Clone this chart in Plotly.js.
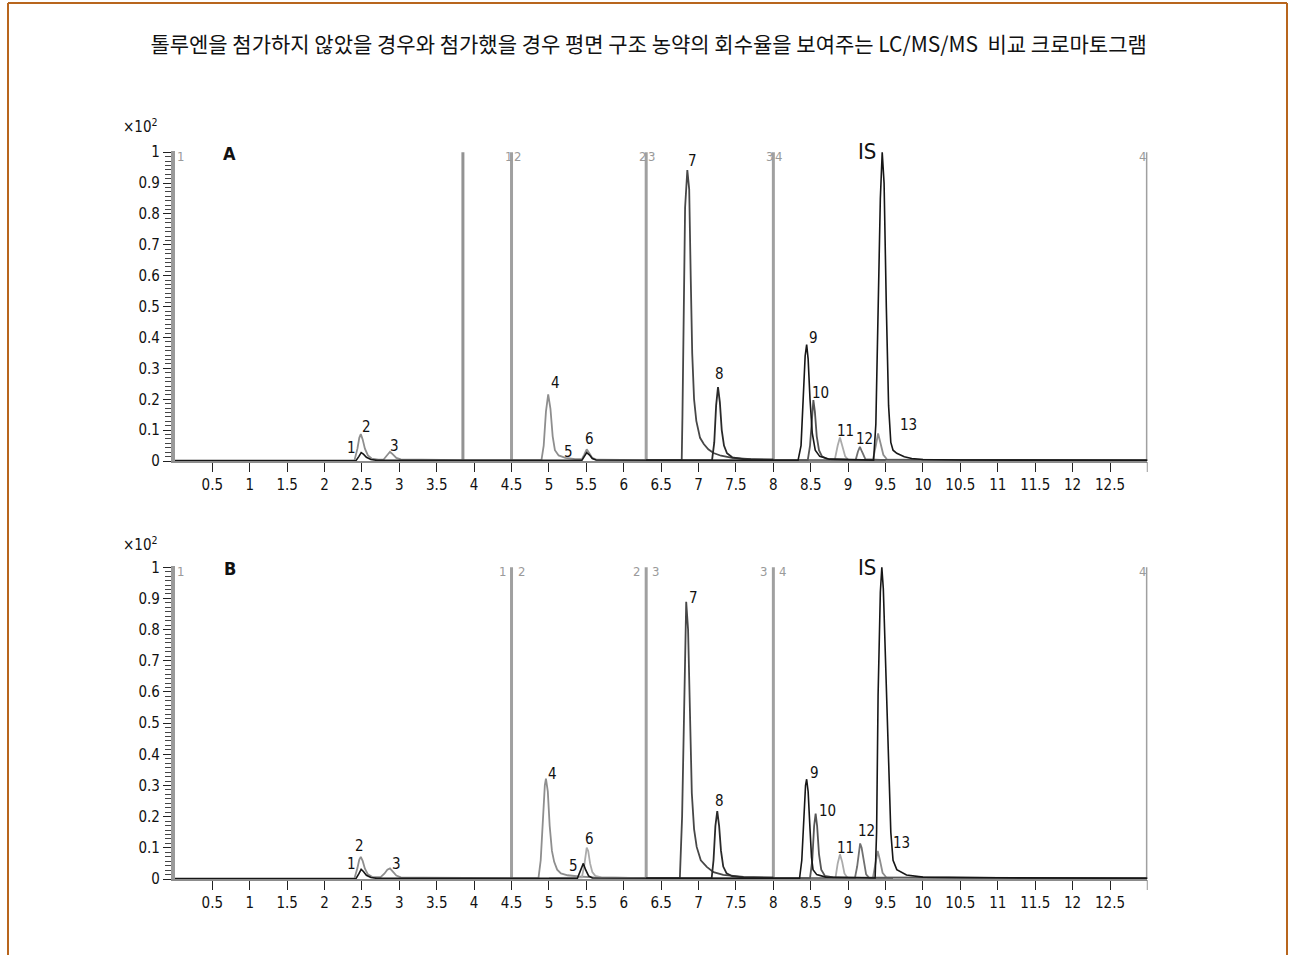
<!DOCTYPE html>
<html>
<head>
<meta charset="utf-8">
<script src="https://cdn.plot.ly/plotly-3.0.1.min.js"></script>
<style>
html,body{margin:0;padding:0;background:#fff;}
#chart{width:1292px;height:955px;}
</style>
</head>
<body>
<div id="chart"></div>
<script>
// ---------- DATA (retention time [min], abundance [x10^2]) ----------
const titleText = "톨루엔을 첨가하지 않았을 경우와 첨가했을 경우 평면 구조 농약의 회수율을 보여주는 LC/MS/MS  비교 크로마토그램";
const xTickVals = [0.5,1,1.5,2,2.5,3,3.5,4,4.5,5,5.5,6,6.5,7,7.5,8,8.5,9,9.5,10,10.5,11,11.5,12,12.5];
const xTickText = ["0.5","1","1.5","2","2.5","3","3.5","4","4.5","5","5.5","6","6.5","7","7.5","8","8.5","9","9.5","10","10.5","11","11.5","12","12.5"];
const yTickVals = [0,0.1,0.2,0.3,0.4,0.5,0.6,0.7,0.8,0.9,1];
const yTickText = ["0","0.1","0.2","0.3","0.4","0.5","0.6","0.7","0.8","0.9","1"];

// time segment boundaries
const segA = [3.85, 4.5, 6.3, 8.0, 13];
const segB = [4.5, 6.3, 8.0, 13];

// Panel A traces
const A_mid = [[0,0.002],[2.40,0.002],[2.44,0.04],[2.465,0.075],[2.485,0.087],[2.51,0.07],[2.54,0.04],[2.58,0.018],[2.63,0.008],[2.72,0.004],[2.79,0.005],[2.83,0.018],[2.875,0.03],[2.91,0.022],[2.96,0.01],[3.02,0.005],[3.3,0.004],[3.85,0.003],[4.5,0.003],[4.90,0.003],[4.93,0.05],[4.96,0.16],[4.99,0.216],[5.02,0.17],[5.05,0.08],[5.08,0.035],[5.13,0.018],[5.22,0.01],[5.35,0.006],[5.44,0.006],[5.47,0.02],[5.505,0.038],[5.54,0.025],[5.58,0.01],[5.64,0.004],[6.3,0.003],[8.0,0.003],[9.33,0.003],[9.37,0.05],[9.40,0.089],[9.43,0.06],[9.47,0.02],[9.52,0.005],[10.5,0.003],[13,0.003]];
const A_black = [[0,0.001],[2.42,0.001],[2.46,0.015],[2.49,0.027],[2.52,0.022],[2.56,0.012],[2.62,0.005],[2.7,0.002],[5.44,0.002],[5.48,0.015],[5.505,0.027],[5.54,0.02],[5.58,0.008],[5.63,0.003],[8.33,0.002],[8.37,0.05],[8.40,0.2],[8.425,0.34],[8.445,0.377],[8.465,0.33],[8.49,0.2],[8.52,0.09],[8.56,0.035],[8.62,0.015],[8.75,0.006],[9.0,0.004],[9.34,0.003],[9.37,0.12],[9.40,0.45],[9.43,0.85],[9.455,1.0],[9.48,0.9],[9.51,0.5],[9.54,0.18],[9.57,0.06],[9.60,0.035],[9.65,0.025],[9.75,0.014],[9.85,0.008],[10,0.005],[10.5,0.003],[13,0.002]];
const A_p7 = [[6.3,0.003],[6.775,0.003],[6.785,0.15],[6.80,0.5],[6.82,0.82],[6.85,0.942],[6.875,0.88],[6.895,0.6],[6.915,0.35],[6.94,0.2],[6.97,0.13],[7.02,0.075],[7.07,0.055],[7.13,0.038],[7.2,0.026],[7.3,0.017],[7.45,0.01],[7.7,0.006],[8.0,0.004]];
const A_p8 = [[6.3,0.002],[7.18,0.002],[7.21,0.06],[7.235,0.18],[7.26,0.239],[7.285,0.19],[7.31,0.1],[7.34,0.05],[7.38,0.025],[7.45,0.012],[7.6,0.006],[8.0,0.004]];
const A_p10 = [[8.0,0.003],[8.46,0.003],[8.49,0.05],[8.515,0.15],[8.535,0.197],[8.555,0.16],[8.58,0.08],[8.61,0.035],[8.65,0.015],[8.72,0.006],[9.0,0.004],[13,0.003]];
const A_light = [[8.0,0.003],[8.82,0.003],[8.86,0.05],[8.89,0.076],[8.92,0.05],[8.96,0.015],[9.0,0.004],[9.5,0.003]];
const A_p12 = [[8.0,0.003],[9.10,0.003],[9.13,0.03],[9.157,0.046],[9.185,0.03],[9.23,0.006],[9.5,0.003]];

// Panel B traces
const B_mid = [[0,0.002],[2.40,0.002],[2.44,0.035],[2.465,0.062],[2.485,0.071],[2.51,0.058],[2.54,0.033],[2.58,0.015],[2.64,0.006],[2.75,0.006],[2.80,0.017],[2.84,0.03],[2.875,0.034],[2.91,0.025],[2.96,0.011],[3.02,0.005],[3.3,0.004],[4.5,0.003],[4.86,0.003],[4.89,0.06],[4.92,0.2],[4.945,0.3],[4.96,0.322],[4.985,0.28],[5.01,0.17],[5.04,0.09],[5.07,0.055],[5.11,0.03],[5.16,0.018],[5.25,0.012],[5.4,0.008],[5.6,0.005],[6.3,0.003],[8.0,0.003],[9.33,0.003],[9.365,0.05],[9.395,0.09],[9.425,0.06],[9.46,0.02],[9.51,0.005],[10.5,0.003],[13,0.003]];
const B_light = [[5.0,0.003],[5.44,0.005],[5.47,0.04],[5.49,0.085],[5.505,0.101],[5.525,0.09],[5.55,0.05],[5.58,0.022],[5.62,0.01],[5.7,0.005],[6.3,0.003],[8.0,0.003],[8.83,0.003],[8.86,0.05],[8.89,0.079],[8.92,0.055],[8.95,0.018],[8.99,0.004],[9.5,0.003]];
const B_black = [[0,0.001],[2.42,0.001],[2.46,0.017],[2.49,0.031],[2.52,0.024],[2.56,0.012],[2.62,0.005],[2.7,0.002],[5.38,0.002],[5.42,0.025],[5.46,0.05],[5.49,0.03],[5.53,0.01],[5.58,0.003],[8.35,0.002],[8.38,0.06],[8.41,0.22],[8.43,0.3],[8.445,0.32],[8.465,0.28],[8.49,0.16],[8.51,0.07],[8.53,0.03],[8.58,0.014],[8.7,0.006],[9.0,0.004],[9.36,0.003],[9.38,0.15],[9.40,0.59],[9.43,0.92],[9.45,1.0],[9.47,0.93],[9.50,0.7],[9.535,0.38],[9.57,0.15],[9.60,0.06],[9.65,0.03],[9.78,0.013],[10,0.006],[11,0.004],[13,0.002]];
const B_p7 = [[6.3,0.003],[6.75,0.003],[6.78,0.2],[6.81,0.6],[6.835,0.889],[6.86,0.8],[6.885,0.5],[6.91,0.275],[6.94,0.16],[6.975,0.103],[7.03,0.06],[7.11,0.039],[7.2,0.022],[7.33,0.013],[7.6,0.007],[8.0,0.004]];
const B_p8 = [[6.3,0.002],[7.175,0.002],[7.2,0.06],[7.225,0.17],[7.25,0.218],[7.275,0.17],[7.30,0.09],[7.33,0.04],[7.375,0.018],[7.45,0.009],[7.6,0.005],[8.0,0.004]];
const B_p10 = [[8.0,0.003],[8.49,0.003],[8.52,0.06],[8.545,0.17],[8.565,0.21],[8.585,0.17],[8.61,0.08],[8.64,0.03],[8.69,0.01],[8.8,0.005],[13,0.003]];
const B_p12 = [[8.0,0.003],[9.09,0.003],[9.12,0.04],[9.145,0.095],[9.16,0.114],[9.18,0.1],[9.21,0.05],[9.24,0.015],[9.28,0.004],[9.6,0.003]];

// Peak labels with apex (rt, height)
const peakNames = ["1","2","3","4","5","6","7","8","9","10","11","12","13","IS"];
const peakRtA = [2.49,2.485,2.875,4.99,5.505,5.505,6.85,7.26,8.445,8.535,8.89,9.157,9.40,9.455];
const peakHtA = [0.027,0.087,0.03,0.216,0.027,0.038,0.942,0.239,0.377,0.197,0.076,0.046,0.089,1.0];
const peakRtB = [2.49,2.485,2.875,4.96,5.46,5.505,6.835,7.25,8.445,8.565,8.89,9.16,9.395,9.45];
const peakHtB = [0.031,0.071,0.034,0.322,0.05,0.101,0.889,0.218,0.32,0.21,0.079,0.114,0.09,1.0];

// ---------- STYLE ----------
const FONT = "'Liberation Sans Narrow', 'DejaVu Sans Condensed', 'Arial Narrow', sans-serif";
const offA = [[-10,5],[6,7],[5,6],[7,11],[-18,1],[3,10],[5,9],[1,13],[7,7],[7,7],[6,7],[5,8],[30,9],[-15,1]];
const offB = [[-10,5],[-1,11],[7,4],[7,5],[-10,-3],[3,9],[7,4],[2,10],[8,6],[12,3],[6,6],[6,12],[24,8],[-15,0]];

function tr(pts, color, w, xa, ya){
  return {x: pts.map(p=>p[0]), y: pts.map(p=>p[1]), type:'scatter', mode:'lines',
    line:{color:color, width:w}, xaxis:xa, yaxis:ya, hoverinfo:'skip', showlegend:false};
}
const data = [
  tr(A_mid,'#8e8e8e',1.8,'x','y'),
  tr(A_light,'#ababab',1.8,'x','y'),
  tr(A_p12,'#707070',1.8,'x','y'),
  tr(A_p10,'#555555',1.8,'x','y'),
  tr(A_p7,'#474747',1.8,'x','y'),
  tr(A_p8,'#2a2a2a',1.8,'x','y'),
  tr(A_black,'#161616',1.6,'x','y'),
  tr(B_mid,'#8e8e8e',1.8,'x2','y2'),
  tr(B_light,'#ababab',1.8,'x2','y2'),
  tr(B_p12,'#707070',1.8,'x2','y2'),
  tr(B_p10,'#555555',1.8,'x2','y2'),
  tr(B_p7,'#474747',1.8,'x2','y2'),
  tr(B_p8,'#2a2a2a',1.8,'x2','y2'),
  tr(B_black,'#161616',1.6,'x2','y2')
];

const shapes = [];
segA.forEach((s,i)=>shapes.push({type:'line',xref:'x',yref:'y',x0:s,x1:s,y0:0,y1:1,
  line:{color: i===0 ? '#939393' : '#a0a0a0', width:3}, layer:'below'}));
segB.forEach(s=>shapes.push({type:'line',xref:'x2',yref:'y2',x0:s,x1:s,y0:0,y1:1,
  line:{color:'#a0a0a0', width:3}, layer:'below'}));
// end tick at 13 on both x axes
shapes.push({type:'line',xref:'x',yref:'paper',x0:13,x1:13,y0:1-462/955,y1:1-472/955,line:{color:'#222',width:1}});
shapes.push({type:'line',xref:'x2',yref:'paper',x0:13,x1:13,y0:1-880/955,y1:1-890/955,line:{color:'#222',width:1}});
// frame
shapes.push({type:'line',xref:'paper',yref:'paper',x0:8/1292,x1:1287/1292,y0:1-3/955,y1:1-3/955,line:{color:'#b8651d',width:2}});
shapes.push({type:'line',xref:'paper',yref:'paper',x0:8/1292,x1:8/1292,y0:1-3/955,y1:-0.05,line:{color:'#b8651d',width:2}});
shapes.push({type:'line',xref:'paper',yref:'paper',x0:1287/1292,x1:1287/1292,y0:1-3/955,y1:-0.05,line:{color:'#b8651d',width:2}});

const annotations = [];
function peakLabels(rt, ht, off, xr, yr){
  peakNames.forEach((n,i)=>{
    const isIS = n==='IS';
    annotations.push({x:rt[i], y:ht[i], xref:xr, yref:yr, text:n, showarrow:false,
      xanchor:'center', yanchor:'middle', xshift:off[i][0], yshift:off[i][1],
      font:{family:FONT, size: isIS?22:15, color:'#111'}});
  });
}
peakLabels(peakRtA, peakHtA, offA, 'x', 'y');
peakLabels(peakRtB, peakHtB, offB, 'x2', 'y2');

function segLabel(x, y, text, xr, yr, anchor, shift){
  annotations.push({x:x, y:y, xref:xr, yref:yr, text:text, showarrow:false,
    xanchor:anchor, yanchor:'middle', xshift:shift, yshift:-4, font:{family:FONT, size:13, color:'#9a9a9a'}});
}
// Panel A segment numbers
segLabel(0,1,'1','x','y','left',0);
segLabel(4.5,1,'1','x','y','right',2);
segLabel(4.5,1,'2','x','y','left',0);
segLabel(6.3,1,'2','x','y','right',2);
segLabel(6.3,1,'3','x','y','left',0);
segLabel(8.0,1,'3','x','y','right',2);
segLabel(8.0,1,'4','x','y','left',0);
segLabel(13,1,'4','x','y','right',1);
// Panel B segment numbers
segLabel(0,1,'1','x2','y2','left',0);
segLabel(4.5,1,'1','x2','y2','right',-4);
segLabel(4.5,1,'2','x2','y2','left',4);
segLabel(6.3,1,'2','x2','y2','right',-4);
segLabel(6.3,1,'3','x2','y2','left',4);
segLabel(8.0,1,'3','x2','y2','right',-4);
segLabel(8.0,1,'4','x2','y2','left',4);
segLabel(13,1,'4','x2','y2','right',1);

// panel letters and multipliers
annotations.push({x:0.73,y:0.995,xref:'x',yref:'y',text:'<b>A</b>',showarrow:false,xanchor:'center',yanchor:'middle',font:{family:FONT,size:18,color:'#111'}});
annotations.push({x:0.73,y:0.995,xref:'x2',yref:'y2',text:'<b>B</b>',showarrow:false,xanchor:'center',yanchor:'middle',font:{family:FONT,size:18,color:'#111'}});
annotations.push({x:140/1292,y:1-126/955,xref:'paper',yref:'paper',text:'×10<sup>2</sup>',showarrow:false,xanchor:'center',yanchor:'middle',font:{family:FONT,size:15,color:'#111'}});
annotations.push({x:140/1292,y:1-544/955,xref:'paper',yref:'paper',text:'×10<sup>2</sup>',showarrow:false,xanchor:'center',yanchor:'middle',font:{family:FONT,size:15,color:'#111'}});

const xDom = [174.9/1292, 1147.4/1292];
function xAxis(anchor){
  return {domain:xDom, range:[0,13], anchor:anchor, showline:true, linecolor:'#8c8c8c', linewidth:2,
    ticks:'outside', ticklen:9, tickwidth:1, tickcolor:'#222', tickvals:xTickVals, ticktext:xTickText,
    tickfont:{family:FONT,size:15,color:'#111'}, showgrid:false, zeroline:false, fixedrange:true};
}
function yAxis(anchor, dom){
  return {domain:dom, range:[0,1.004], anchor:anchor, showline:true, linecolor:'#9a9a9a', linewidth:4,
    ticks:'outside', ticklen:8, tickwidth:1, tickcolor:'#222', tickvals:yTickVals, ticktext:yTickText,
    minor:{ticks:'outside', ticklen:6, tickwidth:1, tickcolor:'#444', dtick:0.1/7, tick0:0},
    tickfont:{family:FONT,size:15,color:'#111'}, showgrid:false, zeroline:false, fixedrange:true};
}

const layout = {
  width:1292, height:955, margin:{l:0,r:0,t:0,b:0}, paper_bgcolor:'#fff', plot_bgcolor:'rgba(0,0,0,0)',
  title:{text:titleText, x:0.502, xanchor:'center', y:1-45/955, yanchor:'middle', font:{family:"'Noto Sans CJK KR', sans-serif", size:21, color:'#111'}},
  xaxis:xAxis('y'), yaxis:yAxis('x',[1-461/955, 1-151/955]),
  xaxis2:xAxis('y2'), yaxis2:yAxis('x2',[1-879/955, 1-566/955]),
  shapes:shapes, annotations:annotations, showlegend:false
};
Plotly.newPlot('chart', data, layout, {staticPlot:true, displayModeBar:false});
</script>
</body>
</html>
